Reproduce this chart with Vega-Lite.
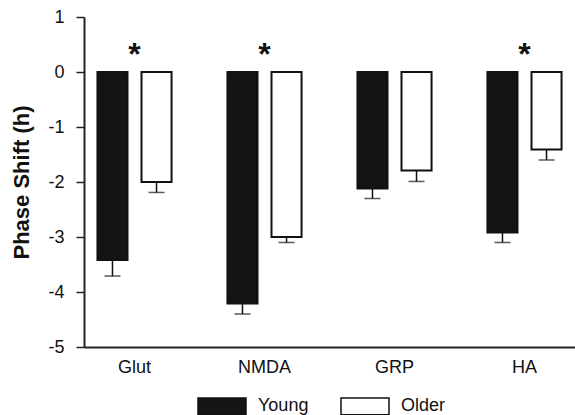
{
  "$schema": "https://vega.github.io/schema/vega-lite/v6.json",
  "width": 491,
  "height": 330,
  "autosize": {"type": "none"},
  "padding": {"left": 84, "top": 17, "right": 0, "bottom": 68},
  "background": "white",
  "config": {
    "view": {"stroke": null},
    "font": "Liberation Sans",
    "axis": {"grid": false, "domainColor": "#222", "tickColor": "#222", "labelColor": "#111", "titleColor": "#111"}
  },
  "datasets": {
    "bars": [
      {"category": "Glut", "group": "Young", "value": -3.42, "lower": -3.71},
      {"category": "Glut", "group": "Older", "value": -2.0, "lower": -2.19},
      {"category": "NMDA", "group": "Young", "value": -4.21, "lower": -4.4},
      {"category": "NMDA", "group": "Older", "value": -3.0, "lower": -3.1},
      {"category": "GRP", "group": "Young", "value": -2.12, "lower": -2.3},
      {"category": "GRP", "group": "Older", "value": -1.79, "lower": -1.99},
      {"category": "HA", "group": "Young", "value": -2.92, "lower": -3.1},
      {"category": "HA", "group": "Older", "value": -1.41, "lower": -1.6}
    ],
    "stars": [
      {"category": "Glut", "label": "*"},
      {"category": "NMDA", "label": "*"},
      {"category": "HA", "label": "*"}
    ]
  },
  "encoding": {
    "x": {
      "field": "category", "type": "nominal", "sort": ["Glut", "NMDA", "GRP", "HA"],
      "scale": {"paddingInner": 0.43, "paddingOuter": 0.1035},
      "axis": {"title": null, "labelAngle": 0, "ticks": false, "labelFontSize": 18, "labelPadding": 11, "domainWidth": 2}
    }
  },
  "layer": [
    {
      "mark": {"type": "rule", "color": "#333", "strokeWidth": 1.5},
      "encoding": {"x": null, "y": {"datum": 0, "type": "quantitative"}}
    },
    {
      "mark": {"type": "rule", "color": "#333", "strokeWidth": 1.5},
      "encoding": {"x": null, "y": {"datum": 1, "type": "quantitative"}}
    },
    {
      "data": {"name": "bars"},
      "mark": {"type": "rule", "color": "#111", "strokeWidth": 1.5},
      "encoding": {
        "xOffset": {"field": "group", "type": "nominal", "sort": ["Young", "Older"], "scale": {"paddingInner": 0.318, "paddingOuter": 0}},
        "y": {"field": "value", "type": "quantitative"},
        "y2": {"field": "lower"}
      }
    },
    {
      "data": {"name": "bars"},
      "mark": {"type": "tick", "color": "#111", "thickness": 1.5, "size": 16, "orient": "horizontal"},
      "encoding": {
        "xOffset": {"field": "group", "type": "nominal", "sort": ["Young", "Older"]},
        "y": {"field": "lower", "type": "quantitative"}
      }
    },
    {
      "data": {"name": "bars"},
      "mark": {"type": "bar", "stroke": "#111", "strokeWidth": 2},
      "encoding": {
        "xOffset": {"field": "group", "type": "nominal", "sort": ["Young", "Older"]},
        "y": {
          "field": "value", "type": "quantitative",
          "scale": {"domain": [-5, 1], "nice": false, "zero": false},
          "axis": {
            "title": "Phase Shift (h)", "titleFontSize": 22, "titleFontWeight": "bold", "titlePadding": 14,
            "values": [-5, -4, -3, -2, -1, 0, 1], "labelExpr": "toString(datum.value)", "labelFontSize": 18, "labelPadding": 12,
            "tickSize": 8, "domainWidth": 2, "tickWidth": 1.5
          }
        },
        "y2": {"datum": 0},
        "fill": {
          "field": "group", "type": "nominal", "sort": ["Young", "Older"],
          "scale": {"domain": ["Young", "Older"], "range": ["#141414", "#ffffff"]},
          "legend": {
            "title": null, "orient": "none", "direction": "horizontal",
            "legendX": 113, "legendY": 364,
            "symbolType": "M-1,-0.35L1,-0.35L1,0.35L-1,0.35Z", "symbolSize": 2304,
            "symbolStrokeColor": "#111", "symbolStrokeWidth": 1.5, "symbolOpacity": 1,
            "labelFontSize": 18, "labelOffset": 11, "columnPadding": 29, "labelColor": "#111"
          }
        }
      }
    },
    {
      "data": {"name": "stars"},
      "mark": {"type": "text", "fontSize": 32, "fontWeight": "bold", "baseline": "alphabetic", "color": "#111"},
      "encoding": {
        "text": {"field": "label"},
        "y": {"datum": 0.13, "type": "quantitative"}
      }
    }
  ]
}
